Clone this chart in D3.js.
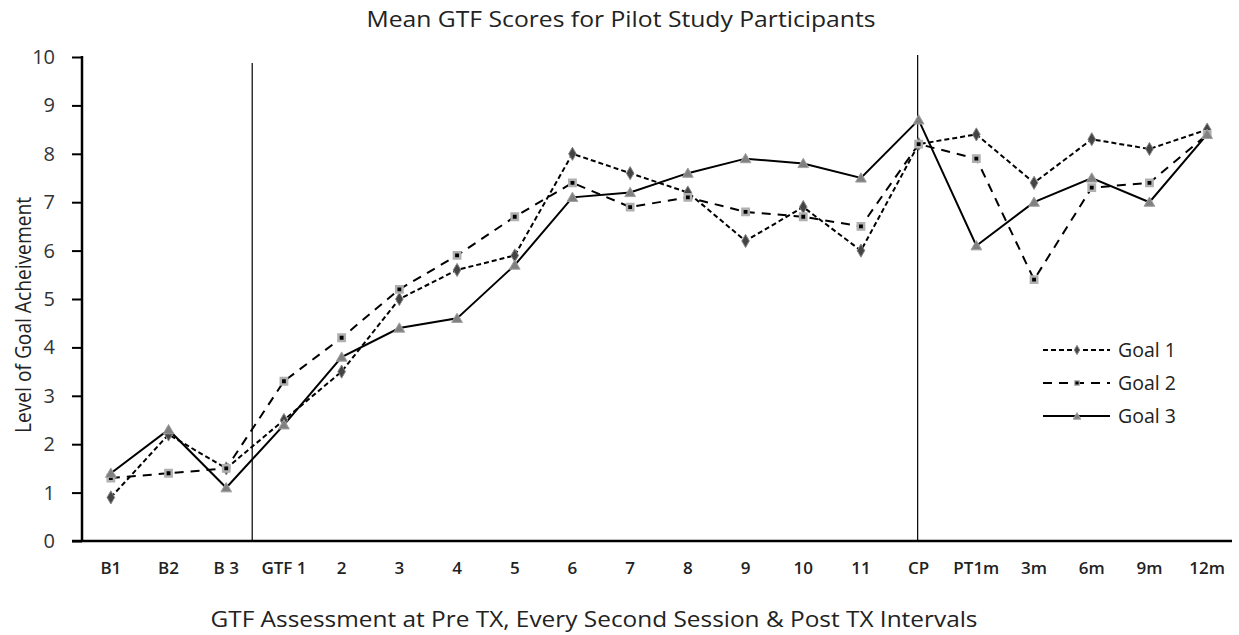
<!DOCTYPE html>
<html>
<head>
<meta charset="utf-8">
<script src="https://cdn.jsdelivr.net/npm/d3@7"></script>
<style>
  body { margin: 0; background: #fff; }
  text { fill: #222; }
  .title { font-family: "Open Sans", sans-serif; font-size: 21px; }
  .ytick text { font-family: "Open Sans", sans-serif; font-size: 20px; fill: #333; }
  .xtick text { font-family: "Open Sans", sans-serif; font-size: 17px; font-weight: 600; fill: #222; }
  .axisText { font-family: "Open Sans", sans-serif; font-size: 22px; fill: #222; }
  .legendText { font-family: "Open Sans", sans-serif; font-size: 19.5px; fill: #222; }
</style>
</head>
<body>
<div id="chart"></div>
<script>
// Define SVG area dimensions
var svgWidth = 1239;
var svgHeight = 635;

// Categories along the x axis
var sessions = ["B1", "B2", "B 3", "GTF 1", "2", "3", "4", "5", "6", "7", "8", "9", "10", "11", "CP", "PT1m", "3m", "6m", "9m", "12m"];

// Mean scores per goal
var goal1 = [0.9, 2.2, 1.5, 2.5, 3.5, 5.0, 5.6, 5.9, 8.0, 7.6, 7.2, 6.2, 6.9, 6.0, 8.2, 8.4, 7.4, 8.3, 8.1, 8.5];
var goal2 = [1.3, 1.4, 1.5, 3.3, 4.2, 5.2, 5.9, 6.7, 7.4, 6.9, 7.1, 6.8, 6.7, 6.5, 8.2, 7.9, 5.4, 7.3, 7.4, 8.4];
var goal3 = [1.4, 2.3, 1.1, 2.4, 3.8, 4.4, 4.6, 5.7, 7.1, 7.2, 7.6, 7.9, 7.8, 7.5, 8.7, 6.1, 7.0, 7.5, 7.0, 8.4];

var yTicks = [0, 1, 2, 3, 4, 5, 6, 7, 8, 9, 10];

// Phase separators (between baseline and treatment, at completion)
var separators = ["B 3", "CP"];

var series = [
  { name: "Goal 1", values: goal1, dash: "5,3", symbol: d3.symbolDiamond },
  { name: "Goal 2", values: goal2, dash: "9,7", symbol: d3.symbolSquare },
  { name: "Goal 3", values: goal3, dash: null, symbol: d3.symbolTriangle }
];

// Chart area
var chartLeft = 82;
var chartRight = 1236;
var chartTop = 57;
var chartBottom = 541;

var svg = d3.select("#chart")
  .append("svg")
  .attr("width", svgWidth)
  .attr("height", svgHeight);

var xScale = d3.scaleBand()
  .domain(sessions)
  .range([chartLeft, chartRight]);

var yScale = d3.scaleLinear()
  .domain([0, 10])
  .range([chartBottom, chartTop]);

var xPos = d => xScale(d) + xScale.bandwidth() / 2;

// Title
svg.append("text")
  .attr("class", "title")
  .attr("x", 621)
  .attr("y", 27)
  .attr("text-anchor", "middle")
  .attr("textLength", 509)
  .attr("lengthAdjust", "spacingAndGlyphs")
  .text("Mean GTF Scores for Pilot Study Participants");

// Y axis
var leftAxis = d3.axisLeft(yScale)
  .tickValues(yTicks)
  .tickSize(10)
  .tickPadding(17);

var yAxisG = svg.append("g")
  .attr("class", "ytick")
  .attr("transform", `translate(${chartLeft}, 0)`)
  .call(leftAxis);
yAxisG.select(".domain").remove();
yAxisG.selectAll("line").attr("stroke", "#000").attr("stroke-width", 2);

svg.append("line")
  .attr("x1", chartLeft).attr("x2", chartLeft)
  .attr("y1", chartTop - 1).attr("y2", chartBottom)
  .attr("stroke", "#000").attr("stroke-width", 2.5);

// X axis
var bottomAxis = d3.axisBottom(xScale)
  .tickSize(0)
  .tickPadding(21);

var xAxisG = svg.append("g")
  .attr("class", "xtick")
  .attr("transform", `translate(0, ${chartBottom})`)
  .call(bottomAxis);
xAxisG.select(".domain").remove();

svg.append("line")
  .attr("x1", chartLeft - 10).attr("x2", chartRight - 4)
  .attr("y1", chartBottom).attr("y2", chartBottom)
  .attr("stroke", "#000").attr("stroke-width", 2.5);

// Phase separator lines
svg.append("line")
  .attr("x1", xScale(separators[0]) + xScale.bandwidth() * 0.95)
  .attr("x2", xScale(separators[0]) + xScale.bandwidth() * 0.95)
  .attr("y1", 63).attr("y2", chartBottom)
  .attr("stroke", "#000").attr("stroke-width", 1.2);

svg.append("line")
  .attr("x1", xPos(separators[1]) - 1)
  .attr("x2", xPos(separators[1]) - 1)
  .attr("y1", 55).attr("y2", chartBottom)
  .attr("stroke", "#000").attr("stroke-width", 1.2);

// Lines
var line = d3.line()
  .x((d, i) => xPos(sessions[i]))
  .y(d => yScale(d));

series.forEach(function(s) {
  svg.append("path")
    .datum(s.values)
    .attr("fill", "none")
    .attr("stroke", "#000")
    .attr("stroke-width", 2)
    .attr("stroke-dasharray", s.dash)
    .attr("d", line);
});

// Markers
function drawMarker(g, s, x, y, scale) {
  if (s.symbol === d3.symbolSquare) {
    g.append("path")
      .attr("transform", `translate(${x}, ${y})`)
      .attr("d", d3.symbol().type(s.symbol).size(40 * scale)())
      .attr("fill", "#000")
      .attr("stroke", "#b0b0b0")
      .attr("stroke-width", 2.5 * scale);
  } else if (s.symbol === d3.symbolDiamond) {
    g.append("path")
      .attr("transform", `translate(${x}, ${y})`)
      .attr("d", d3.symbol().type(s.symbol).size(50 * scale)())
      .attr("fill", "#444")
      .attr("stroke", "#888")
      .attr("stroke-width", 1);
  } else {
    g.append("path")
      .attr("transform", `translate(${x}, ${y + 1})`)
      .attr("d", d3.symbol().type(s.symbol).size(50 * scale)())
      .attr("fill", "#808080")
      .attr("stroke", "#a0a0a0")
      .attr("stroke-width", 1);
  }
}

var markerGroup = svg.append("g");
series.forEach(function(s) {
  s.values.forEach(function(v, i) {
    drawMarker(markerGroup, s, xPos(sessions[i]), yScale(v), 1);
  });
});

// Axis labels
svg.append("text")
  .attr("class", "axisText")
  .attr("transform", "rotate(-90)")
  .attr("x", -315)
  .attr("y", 31)
  .attr("text-anchor", "middle")
  .attr("textLength", 236)
  .attr("lengthAdjust", "spacingAndGlyphs")
  .text("Level of Goal Acheivement");

svg.append("text")
  .attr("class", "axisText")
  .attr("x", 594)
  .attr("y", 627)
  .attr("text-anchor", "middle")
  .attr("textLength", 767)
  .attr("lengthAdjust", "spacingAndGlyphs")
  .text("GTF Assessment at Pre TX, Every Second Session & Post TX Intervals");

// Legend
var legend = svg.append("g");
series.forEach(function(s, i) {
  var ly = 350 + i * 33;
  legend.append("line")
    .attr("x1", 1043).attr("x2", 1110)
    .attr("y1", ly).attr("y2", ly)
    .attr("stroke", "#000")
    .attr("stroke-width", 2)
    .attr("stroke-dasharray", s.dash);
  drawMarker(legend, s, 1077, ly, 0.5);
  legend.append("text")
    .attr("class", "legendText")
    .attr("x", 1118)
    .attr("y", ly + 7)
    .text(s.name);
});
</script>
</body>
</html>
